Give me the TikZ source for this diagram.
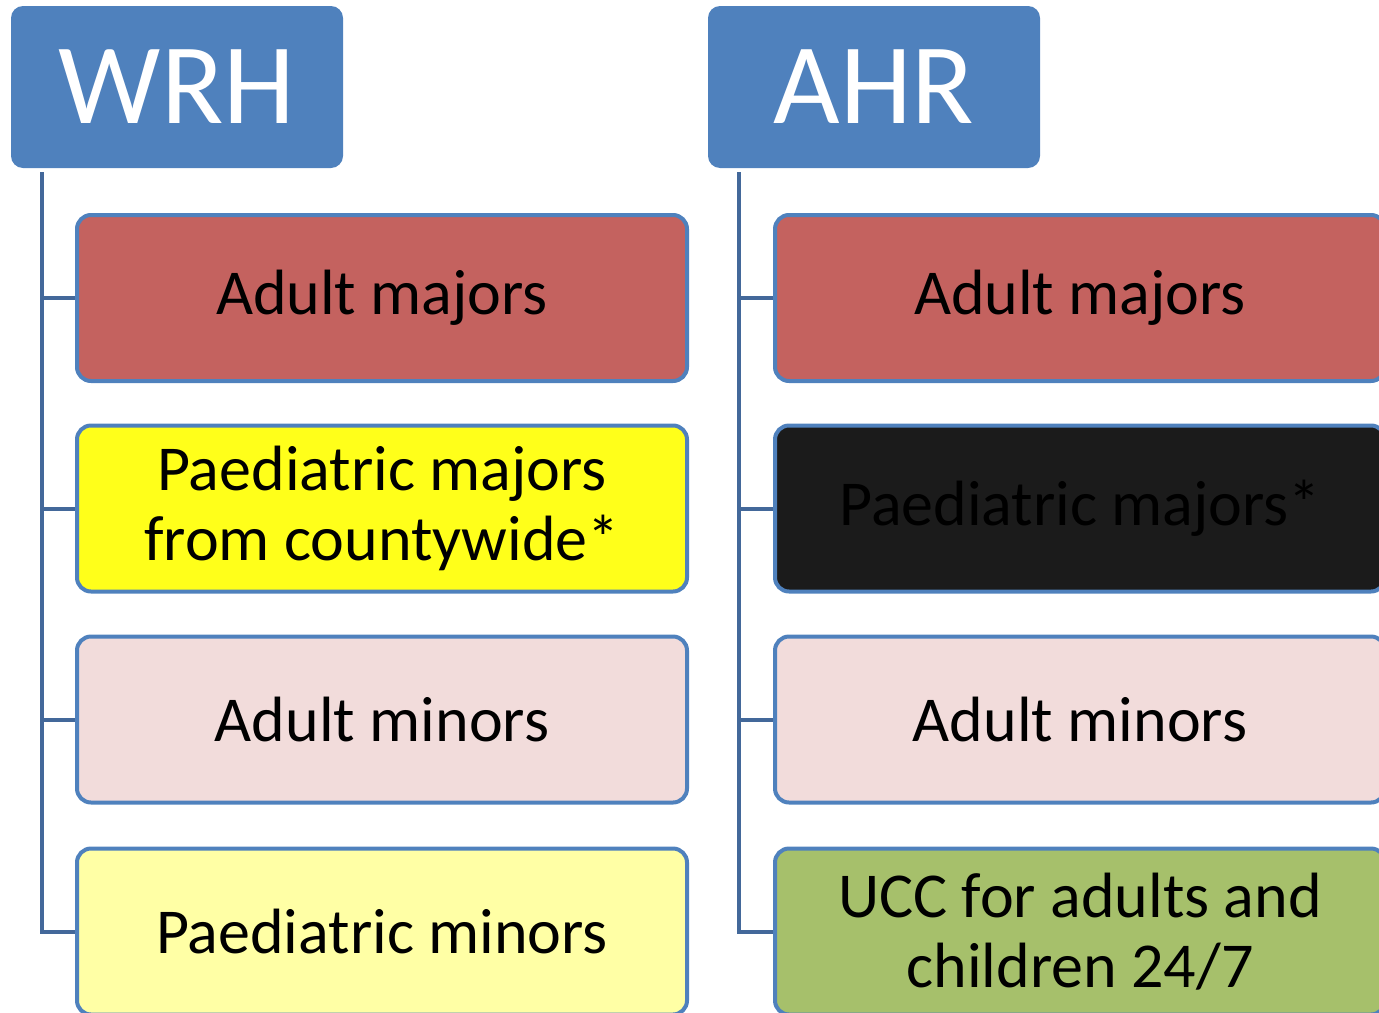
\documentclass[tikz,border=0pt]{standalone}
\usepackage{fontspec}
\setmainfont{Carlito}
\definecolor{hdrblue}{HTML}{4F81BD}
\definecolor{connblue}{HTML}{43689A}
\definecolor{majred}{HTML}{C4625F}
\definecolor{pyellow}{HTML}{FFFF1A}
\definecolor{minpink}{HTML}{F2DCDB}
\definecolor{pminyel}{HTML}{FFFFA5}
\definecolor{pblack}{HTML}{1B1B1B}
\definecolor{uccgreen}{HTML}{A6C06B}
\begin{document}
\begin{tikzpicture}[x=0.5pt,y=-0.5pt,
  header/.style={fill=hdrblue, rounded corners=6pt, minimum width=166pt,
    minimum height=81pt, inner sep=0pt, text=white,
    font=\fontsize{57.5}{60}\selectfont},
  item/.style={draw=hdrblue, line width=2pt, rounded corners=7pt,
    minimum width=305pt, minimum height=83pt, inner sep=0pt,
    align=center, text=black, font=\fontsize{32}{35}\selectfont},
  conn/.style={draw=connblue, line width=2pt}]
\useasboundingbox (0,0) rectangle (1379,1012);
\clip (0,0) rectangle (1379,1012);

% hospital headers
\node[header] (wrh) at (177,87) {WRH};
\node[header] (ahr) at (874,87) {AHR};

% trunk start points below each header
\coordinate (wt) at ([xshift=15.5pt,yshift=-2pt]wrh.south west);
\coordinate (at) at ([xshift=15.5pt,yshift=-2pt]ahr.south west);

% WRH services
\node[item, fill=majred]  (w1) at (382,298)   {Adult majors};
\node[item, fill=pyellow] (w2) at (382,508.5) {Paediatric majors\\from countywide*};
\node[item, fill=minpink] (w3) at (382,719.5) {Adult minors};
\node[item, fill=pminyel] (w4) at (382,931.5) {Paediatric minors};

% AHR services
\node[item, fill=majred]   (a1) at (1080,298)   {Adult majors};
\node[item, fill=pblack]   (a2) at (1080,508.5) {Paediatric majors*};
\node[item, fill=minpink]  (a3) at (1080,719.5) {Adult minors};
\node[item, fill=uccgreen] (a4) at (1080,931.5) {UCC for adults and\\children 24/7};

% tree connectors
\foreach \n in {w1,w2,w3,w4} \draw[conn] (wt) |- (\n.west);
\foreach \n in {a1,a2,a3,a4} \draw[conn] (at) |- (\n.west);
\end{tikzpicture}
\end{document}
